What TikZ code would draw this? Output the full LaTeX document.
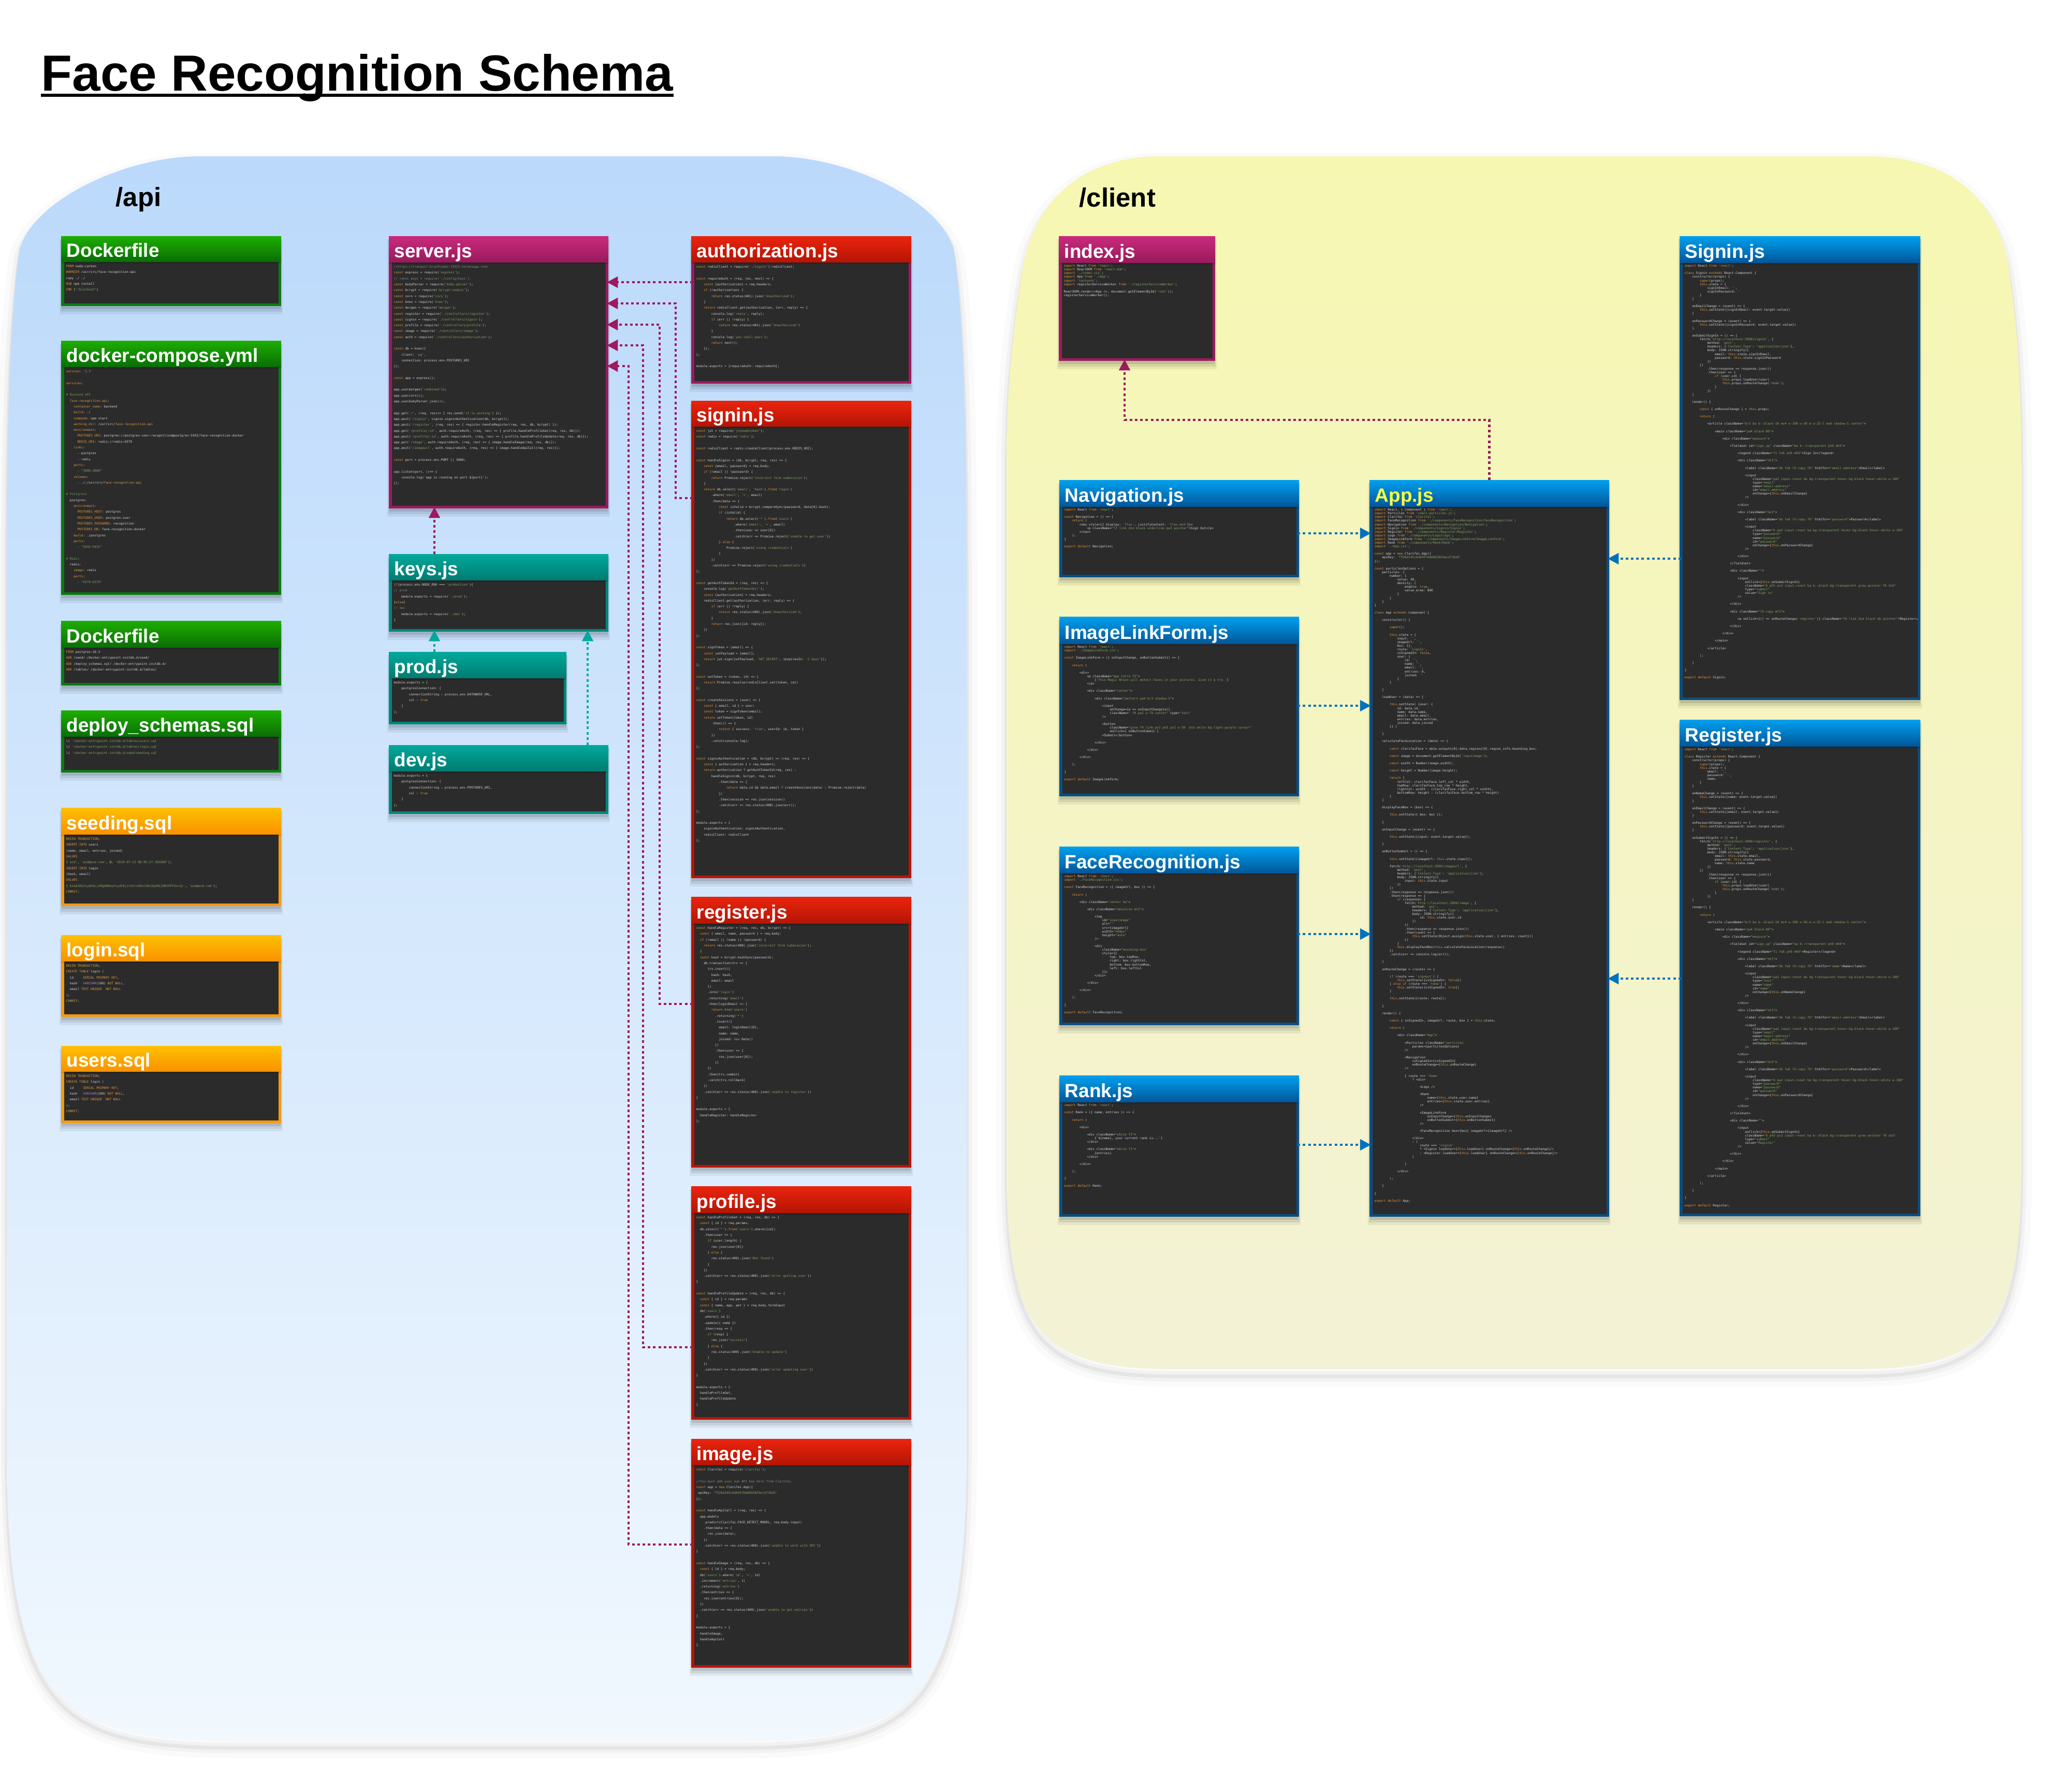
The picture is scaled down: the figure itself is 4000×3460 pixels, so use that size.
\documentclass[tikz,border=0pt]{standalone}
\usepackage{fontspec}
\setmainfont{Liberation Sans}
\setmonofont{DejaVu Sans Mono}
\usepackage{listings}
\usetikzlibrary{arrows.meta}

\begin{filecontents*}[overwrite]{api-docker.txt}
FROM node:carbon
WORKDIR /usr/src/face-recognition-api
copy ./ ./
RUN npm install
CMD ["/bin/bash"]
\end{filecontents*}

\begin{filecontents*}[overwrite]{compose.yml}
version: '3.3'

services:

# Backend API
  face-recognition-api:
    container_name: backend
    build: ./
    command: npm start
    working_dir: /usr/src/face-recognition-api
    environment:
      POSTGRES_URI: postgres://postgres-user:recognition@postgres:5432/face-recognition-docker
      REDIS_URI: redis://redis:6379
    links:
      - postgres
      - redis
    ports:
      - "3000:3000"
    volumes:
      - ./:/usr/src/face-recognition-api

# Postgress
  postgres:
    environment:
      POSTGRES_HOST: postgres
      POSTGRES_USER: postgres-user
      POSTGRES_PASSWORD: recognition
      POSTGRES_DB: face-recognition-docker
    build: ./postgres
    ports:
      - "5432:5432"

# Redis
  redis:
    image: redis
    ports:
      - "6379:6379"
\end{filecontents*}

\begin{filecontents*}[overwrite]{db-docker.txt}
FROM postgres:10.3
ADD /seed/ /docker-entrypoint-initdb.d/seed/
ADD /deploy_schemas.sql/ /docker-entrypoint-initdb.d/
ADD /tables/ /docker-entrypoint-initdb.d/tables/
\end{filecontents*}

\begin{filecontents*}[overwrite]{deploy.sql}
\i '/docker-entrypoint-initdb.d/tables/users.sql'
\i '/docker-entrypoint-initdb.d/tables/login.sql'
\i '/docker-entrypoint-initdb.d/seed/seeding.sql'
\end{filecontents*}

\begin{filecontents*}[overwrite]{seeding.sql}
BEGIN TRANSACTION;
INSERT INTO users
(name, email, entries, joined)
VALUES
('asd', 'asd@asd.com', 0, '2018-07-22 08:05:27.381000');
INSERT INTO login
(hash, email)
VALUES
('$2a$10$IsyQkSLjoMg688eqYLyd20jzYoSrsX0ot3knZpUHZjHMJhPYUxs2y', 'asd@asd.com');
COMMIT;
\end{filecontents*}

\begin{filecontents*}[overwrite]{login.sql}
BEGIN TRANSACTION;
CREATE TABLE login (
  id     SERIAL PRIMARY KEY,
  hash   VARCHAR(100) NOT NULL,
  email TEXT UNIQUE  NOT NULL
);
COMMIT;
\end{filecontents*}

\begin{filecontents*}[overwrite]{server.js}
//https://tranquil-brushlands-79323.herokuapp.com/
const express = require('express');
// const keys = require('./config/keys');
const bodyParser = require('body-parser');
const bcrypt = require('bcrypt-nodejs');
const cors = require('cors');
const knex = require('knex');
const morgan = require('morgan');
const register = require('./controllers/register');
const signin = require('./controllers/signin');
const profile = require('./controllers/profile');
const image = require('./controllers/image');
const auth = require('./controllers/authorization');

const db = knex({
    client: 'pg',
    connection: process.env.POSTGRES_URI
});

const app = express();

app.use(morgan('combined'));
app.use(cors());
app.use(bodyParser.json());

app.get('/', (req, res)=> { res.send('it is working') });
app.post('/signin', signin.signinAuthentication(db, bcrypt));
app.post('/register', (req, res) => { register.handleRegister(req, res, db, bcrypt) });
app.get('/profile/:id', auth.requireAuth, (req, res) => { profile.handleProfileGet(req, res, db)});
app.post('/profile/:id', auth.requireAuth, (req, res) => { profile.handleProfileUpdate(req, res, db)});
app.put('/image', auth.requireAuth, (req, res) => { image.handleImage(req, res, db)});
app.post('/imageurl', auth.requireAuth, (req, res) => { image.handleApiCall(req, res)});

const port = process.env.PORT || 3000;

app.listen(port, ()=> {
    console.log(`app is running on port ${port}`);
});
\end{filecontents*}

\begin{filecontents*}[overwrite]{keys.js}
if(process.env.NODE_ENV === 'production'){
// prod
    module.exports = require('./prod');
}else{
// dev
    module.exports = require('./dev');
}
\end{filecontents*}

\begin{filecontents*}[overwrite]{prod.js}
module.exports = {
    postgresConnection: {
        connectionString : process.env.DATABASE_URL,
        ssl : true
    }
};
\end{filecontents*}

\begin{filecontents*}[overwrite]{dev.js}
module.exports = {
    postgresConnection: {
        connectionString : process.env.POSTGRES_URI,
        ssl : true
    }
};
\end{filecontents*}

\begin{filecontents*}[overwrite]{authorization.js}
const redisClient = require('./signin').redisClient;

const requireAuth = (req, res, next) => {
    const {authorization} = req.headers;
    if (!authorization) {
        return res.status(401).json('Unauthorized');
    }
    return redisClient.get(authorization, (err, reply) => {
        console.log('reply', reply);
        if (err || !reply) {
            return res.status(401).json('Unauthorized')
        }
        console.log('you shall pass');
        return next();
    });
};

module.exports = {requireAuth: requireAuth};
\end{filecontents*}

\begin{filecontents*}[overwrite]{signin.js}
const jwt = require('jsonwebtoken');
const redis = require('redis');

const redisClient = redis.createClient(process.env.REDIS_URI);

const handleSignin = (db, bcrypt, req, res) => {
    const {email, password} = req.body;
    if (!email || !password) {
        return Promise.reject('incorrect form submission');
    }
    return db.select('email', 'hash').from('login')
        .where('email', '=', email)
        .then(data => {
            const isValid = bcrypt.compareSync(password, data[0].hash);
            if (isValid) {
                return db.select('*').from('users')
                    .where('email', '=', email)
                    .then(user => user[0])
                    .catch(err => Promise.reject('unable to get user'))
            } else {
                Promise.reject('wrong credentials')
            }
        })
        .catch(err => Promise.reject('wrong credentials'))
};

const getAuthTokenId = (req, res) => {
    console.log('getAuthTokenId()');
    const {authorization} = req.headers;
    redisClient.get(authorization, (err, reply) => {
        if (err || !reply) {
            return res.status(400).json('Unauthorized');
        }
        return res.json({id: reply});
    })
};

const signToken = (email) => {
    const jwtPayload = {email};
    return jwt.sign(jwtPayload, 'JWT_SECRET', {expiresIn: '2 days'});
};

const setToken = (token, id) => {
    return Promise.resolve(redisClient.set(token, id))
};

const createSessions = (user) => {
    const { email, id } = user;
    const token = signToken(email);
    return setToken(token, id)
        .then(() => {
            return { success: 'true', userId: id, token }
        })
        .catch(console.log);
};

const signinAuthentication = (db, bcrypt) => (req, res) => {
    const { authorization } = req.headers;
    return authorization ? getAuthTokenId(req, res) :
        handleSignin(db, bcrypt, req, res)
            .then(data => {
                return data.id && data.email ? createSessions(data) : Promise.reject(data)
            })
            .then(session => res.json(session))
            .catch(err => res.status(400).json(err));
};

module.exports = {
    signinAuthentication: signinAuthentication,
    redisClient: redisClient
};
\end{filecontents*}

\begin{filecontents*}[overwrite]{register.js}
const handleRegister = (req, res, db, bcrypt) => {
  const { email, name, password } = req.body;
  if (!email || !name || !password) {
    return res.status(400).json('incorrect form submission');
  }
  const hash = bcrypt.hashSync(password);
    db.transaction(trx => {
      trx.insert({
        hash: hash,
        email: email
      })
      .into('login')
      .returning('email')
      .then(loginEmail => {
        return trx('users')
          .returning('*')
          .insert({
            email: loginEmail[0],
            name: name,
            joined: new Date()
          })
          .then(user => {
            res.json(user[0]);
          })
      })
      .then(trx.commit)
      .catch(trx.rollback)
    })
    .catch(err => res.status(400).json('unable to register'))
}

module.exports = {
  handleRegister: handleRegister
};
\end{filecontents*}

\begin{filecontents*}[overwrite]{profile.js}
const handleProfileGet = (req, res, db) => {
  const { id } = req.params;
  db.select('*').from('users').where({id})
    .then(user => {
      if (user.length) {
        res.json(user[0])
      } else {
        res.status(400).json('Not found')
      }
    })
    .catch(err => res.status(400).json('error getting user'))
}

const handleProfileUpdate = (req, res, db) => {
  const { id } = req.params
  const { name, age, pet } = req.body.formInput
  db('users')
    .where({ id })
    .update({ name })
    .then(resp => {
      if (resp) {
        res.json("success")
      } else {
        res.status(400).json('Unable to update')
      }
    })
    .catch(err => res.status(400).json('error updating user'))
}

module.exports = {
  handleProfileGet,
  handleProfileUpdate
}
\end{filecontents*}

\begin{filecontents*}[overwrite]{image.js}
const Clarifai = require('clarifai');

//You must add your own API key here from Clarifai.
const app = new Clarifai.App({
 apiKey: 'f526d145cbd645fbb8663824ecd716d2'
});

const handleApiCall = (req, res) => {
  app.models
    .predict(Clarifai.FACE_DETECT_MODEL, req.body.input)
    .then(data => {
      res.json(data);
    })
    .catch(err => res.status(400).json('unable to work with API'))
}

const handleImage = (req, res, db) => {
  const { id } = req.body;
  db('users').where('id', '=', id)
  .increment('entries', 1)
  .returning('entries')
  .then(entries => {
    res.json(entries[0]);
  })
  .catch(err => res.status(400).json('unable to get entries'))
}

module.exports = {
  handleImage,
  handleApiCall
}
\end{filecontents*}

\begin{filecontents*}[overwrite]{index.js}
import React from 'react';
import ReactDOM from 'react-dom';
import './index.css';
import App from './App';
import 'tachyons';
import registerServiceWorker from './registerServiceWorker';

ReactDOM.render(<App />, document.getElementById('root'));
registerServiceWorker();
\end{filecontents*}

\begin{filecontents*}[overwrite]{Navigation.js}
import React from 'react';

const Navigation = () => {
    return (
        <nav style={{ display: 'flex', justifyContent: 'flex-end'}}>
            <p className="f3 link dim black underline pa3 pointer">Sign Out</p>
        </nav>
    );
}

export default Navigation;
\end{filecontents*}

\begin{filecontents*}[overwrite]{ImageLinkForm.js}
import React from 'react';
import './ImageLinkForm.css';

const ImageLinkForm = ({ onInputChange, onButtonSubmit}) => {

    return (

        <div>
            <p className="App-intro f3">
                {'This Magic Brain will detect faces in your pictures. Give it a try.'}
            </p>

            <div className="center">

                <div className="pattern pa4 br3 shadow-5">

                    <input
                        onChange={e => onInputChange(e)}
                        className=" f4 pa2 w-70 center" type="text"
                    />

                    <button
                        className="grow f4 link pv2 ph3 pv2 w-30  dib white bg-light-purple cursor"
                        onClick={ onButtonSubmit }
                    >Submit</button>

                </div>

            </div>

        </div>

    );

}

export default ImageLinkForm;
\end{filecontents*}

\begin{filecontents*}[overwrite]{FaceRecognition.js}
import React from 'react';
import './FaceRecognition.css';

const FaceRecognition = ({ imageUrl, box }) => {

    return (

        <div className="center ma">

            <div className="absolute mt2">

                <img
                    id="inputimage"
                    alt=""
                    src={imageUrl}
                    width="500px"
                    height="auto"
                />

                <div
                    className="bounding-box"
                    style={{
                        top: box.topRow,
                        right: box.rightCol,
                        bottom: box.bottomRow,
                        left: box.leftCol
                    }}>
                </div>

            </div>

        </div>

    );

}

export default FaceRecognition;
\end{filecontents*}

\begin{filecontents*}[overwrite]{Rank.js}
import React from 'react';

const Rank = ({ name, entries }) => {

    return (

        <div>

            <div className="white f3">
                {`${name}, your current rank is...`}
            </div>

            <div className="white f1">
                {entries}
            </div>

        </div>

    );

}

export default Rank;
\end{filecontents*}

\begin{filecontents*}[overwrite]{App.js}
import React, { Component } from 'react';
import Particles from 'react-particles-js';
import Clarifai from 'clarifai';
import FaceRecognition from './components/FaceRecognition/FaceRecognition';
import Navigation from './components/Navigation/Navigation';
import Signin from './components/Signin/Signin';
import Register from './components/Register/Register';
import Logo from './components/Logo/Logo';
import ImageLinkForm from './components/ImageLinkForm/ImageLinkForm';
import Rank from './components/Rank/Rank';
import './App.css';

const app = new Clarifai.App({
    apiKey: 'f526d145cbd645fbb8663824ecd716d2'
});

const particlesOptions = {
    particles: {
        number: {
            value: 30,
            density: {
                enable: true,
                value_area: 800
            }
        }
    }
}

class App extends Component {

    constructor() {

        super();

        this.state = {
            input: '',
            imageUrl: '',
            box: {},
            route: 'signin',
            isSignedIn: false,
            user: {
                id: '',
                name: '',
                email: '',
                entries: 0,
                joined: ''
            }
        }

    }

    loadUser = (data) => {

        this.setState( {user: {
            id: data.id,
            name: data.name,
            email: data.email,
            entries: data.entries,
            joined: data.joined
        }} )

    }

    calculateFaceLocation = (data) => {

        const clarifaiFace = data.outputs[0].data.regions[0].region_info.bounding_box;

        const image = document.getElementById('inputimage');

        const width = Number(image.width);

        const height = Number(image.height);

        return {
            leftCol: clarifaiFace.left_col * width,
            topRow: clarifaiFace.top_row * height,
            rightCol: width - (clarifaiFace.right_col * width),
            bottomRow: height - (clarifaiFace.bottom_row * height)
        }
    }

    displayFaceBox = (box) => {

        this.setState({ box: box });

    }

    onInputChange = (event) => {

        this.setState({input: event.target.value});

    }

    onButtonSubmit = () => {

        this.setState({imageUrl: this.state.input});

        fetch('http://localhost:3000/imageurl', {
            method: 'post',
            headers: {'Content-Type': 'application/json'},
            body: JSON.stringify({
                input: this.state.input
            })
        })
        .then(response => response.json())
        .then(response => {
            if (response) {
                fetch('http://localhost:3000/image', {
                    method: 'put',
                    headers: {'Content-Type': 'application/json'},
                    body: JSON.stringify({
                        id: this.state.user.id
                    })
                })
                .then(response => response.json())
                .then(count => {
                    this.setState(Object.assign(this.state.user, { entries: count}))
                })
            }
            this.displayFaceBox(this.calculateFaceLocation(response))
        })
        .catch(err => console.log(err));

    }

    onRouteChange = (route) => {

        if (route === 'signout') {
            this.setState({isSignedIn: false})
        } else if (route === 'home') {
            this.setState({isSignedIn: true})
        }

        this.setState({route: route});

    }

    render() {

        const { isSignedIn, imageUrl, route, box } = this.state;

        return (

            <div className="App">

                <Particles className='particles'
                    params={particlesOptions}
                />

                <Navigation
                    isSignedIn={isSignedIn}
                    onRouteChange={this.onRouteChange}
                />

                { route === 'home'
                    ? <div>

                        <Logo />

                        <Rank
                            name={this.state.user.name}
                            entries={this.state.user.entries}
                        />

                        <ImageLinkForm
                            onInputChange={this.onInputChange}
                            onButtonSubmit={this.onButtonSubmit}
                        />

                        <FaceRecognition box={box} imageUrl={imageUrl} />

                    </div>
                    : (
                        route === 'signin'
                        ? <Signin loadUser={this.loadUser} onRouteChange={this.onRouteChange}/>
                        : <Register loadUser={this.loadUser} onRouteChange={this.onRouteChange}/>
                    )

                }

            </div>

        );

    }

}

export default App;
\end{filecontents*}

\begin{filecontents*}[overwrite]{Signin.js}
import React from 'react';

class Signin extends React.Component {
    constructor(props) {
        super(props);
        this.state = {
            signInEmail: '',
            signInPassword: ''
        }
    }

    onEmailChange = (event) => {
        this.setState({signInEmail: event.target.value})
    }

    onPasswordChange = (event) => {
        this.setState({signInPassword: event.target.value})
    }

    onSubmitSignIn = () => {
        fetch('http://localhost:3000/signin', {
            method: 'post',
            headers: {'Content-Type': 'application/json'},
            body: JSON.stringify({
                email: this.state.signInEmail,
                password: this.state.signInPassword
            })
        })
            .then(response => response.json())
            .then(user => {
                if (user.id) {
                    this.props.loadUser(user)
                    this.props.onRouteChange('home');
                }
            })
    }

    render() {

        const { onRouteChange } = this.props;

        return (

            <article className="br3 ba b--black-10 mv4 w-100 w-50-m w-25-l mw6 shadow-5 center">

                <main className="pa4 black-80">

                    <div className="measure">

                        <fieldset id="sign_up" className="ba b--transparent ph0 mh0">

                            <legend className="f1 fw6 ph0 mh0">Sign In</legend>

                            <div className="mt3">

                                <label className="db fw6 lh-copy f6" htmlFor="email-address">Email</label>

                                <input
                                    className="pa2 input-reset ba bg-transparent hover-bg-black hover-white w-100"
                                    type="email"
                                    name="email-address"
                                    id="email-address"
                                    onChange={this.onEmailChange}
                                />

                            </div>

                            <div className="mv3">

                                <label className="db fw6 lh-copy f6" htmlFor="password">Password</label>

                                <input
                                    className="b pa2 input-reset ba bg-transparent hover-bg-black hover-white w-100"
                                    type="password"
                                    name="password"
                                    id="password"
                                    onChange={this.onPasswordChange}
                                />

                            </div>

                        </fieldset>

                        <div className="">

                            <input
                                onClick={this.onSubmitSignIn}
                                className="b ph3 pv2 input-reset ba b--black bg-transparent grow pointer f6 dib"
                                type="submit"
                                value="Sign in"
                            />

                        </div>

                        <div className="lh-copy mt3">

                            <p onClick={() => onRouteChange('register')} className="f6 link dim black db pointer">Register</p>

                        </div>

                    </div>

                </main>

            </article>

        );

    }

}

export default Signin;
\end{filecontents*}

\begin{filecontents*}[overwrite]{Register.js}
import React from 'react';

class Register extends React.Component {
    constructor(props) {
        super(props);
        this.state = {
            email: '',
            password: '',
            name: ''
        }
    }

    onNameChange = (event) => {
        this.setState({name: event.target.value})
    }

    onEmailChange = (event) => {
        this.setState({email: event.target.value})
    }

    onPasswordChange = (event) => {
        this.setState({password: event.target.value})
    }

    onSubmitSignIn = () => {
        fetch('http://localhost:3000/register', {
            method: 'post',
            headers: {'Content-Type': 'application/json'},
            body: JSON.stringify({
                email: this.state.email,
                password: this.state.password,
                name: this.state.name
            })
        })
            .then(response => response.json())
            .then(user => {
                if (user.id) {
                    this.props.loadUser(user)
                    this.props.onRouteChange('home');
                }
            })
    }

    render() {

        return (

            <article className="br3 ba b--black-10 mv4 w-100 w-50-m w-25-l mw6 shadow-5 center">

                <main className="pa4 black-80">

                    <div className="measure">

                        <fieldset id="sign_up" className="ba b--transparent ph0 mh0">

                            <legend className="f1 fw6 ph0 mh0">Register</legend>

                            <div className="mt3">

                                <label className="db fw6 lh-copy f6" htmlFor="name">Name</label>

                                <input
                                    className="pa2 input-reset ba bg-transparent hover-bg-black hover-white w-100"
                                    type="text"
                                    name="name"
                                    id="name"
                                    onChange={this.onNameChange}
                                />

                            </div>

                            <div className="mt3">

                                <label className="db fw6 lh-copy f6" htmlFor="email-address">Email</label>

                                <input
                                    className="pa2 input-reset ba bg-transparent hover-bg-black hover-white w-100"
                                    type="email"
                                    name="email-address"
                                    id="email-address"
                                    onChange={this.onEmailChange}
                                />

                            </div>

                            <div className="mv3">

                                <label className="db fw6 lh-copy f6" htmlFor="password">Password</label>

                                <input
                                    className="b pa2 input-reset ba bg-transparent hover-bg-black hover-white w-100"
                                    type="password"
                                    name="password"
                                    id="password"
                                    onChange={this.onPasswordChange}
                                />

                            </div>

                        </fieldset>

                        <div className="">

                            <input
                                onClick={this.onSubmitSignIn}
                                className="b ph3 pv2 input-reset ba b--black bg-transparent grow pointer f6 dib"
                                type="submit"
                                value="Register"
                            />

                        </div>

                    </div>

                </main>

            </article>

        );

    }

}

export default Register;
\end{filecontents*}

% ---------- colours ----------
\definecolor{codebg}{HTML}{2B2B2B}
\definecolor{codefg}{HTML}{D6D6D6}
\definecolor{kw}{HTML}{E59A3C}
\definecolor{str}{HTML}{87A862}
\definecolor{cmt}{HTML}{8A8A8A}
\definecolor{ycmt}{HTML}{6E9A4E}
\definecolor{pur}{HTML}{A882C8}
\definecolor{appY}{HTML}{FFFF3C}
\definecolor{grnT}{HTML}{1EAE00}\definecolor{grnB}{HTML}{0A6E06}\definecolor{grnL}{HTML}{0C7A10}
\definecolor{orgT}{HTML}{FDC000}\definecolor{orgB}{HTML}{F99200}\definecolor{orgL}{HTML}{F39A12}
\definecolor{mrT}{HTML}{CB2A7D}\definecolor{mrB}{HTML}{991A5C}\definecolor{mrL}{HTML}{9B1B5F}
\definecolor{redT}{HTML}{EA240E}\definecolor{redB}{HTML}{B51505}\definecolor{redL}{HTML}{B81406}
\definecolor{tlT}{HTML}{00A99B}\definecolor{tlB}{HTML}{007C72}\definecolor{tlL}{HTML}{00877C}
\definecolor{blT}{HTML}{00A0EF}\definecolor{blB}{HTML}{00579A}\definecolor{blL}{HTML}{0A4E82}
\definecolor{mrA}{HTML}{9C1A60}
\definecolor{tlA}{HTML}{00A99D}
\definecolor{blA}{HTML}{0072BC}
\definecolor{apiT}{HTML}{BBD9FB}\definecolor{apiB}{HTML}{F1F8FE}
\definecolor{cliT}{HTML}{F6F7B1}\definecolor{cliB}{HTML}{F3F2D6}

\newcommand\thGreen{\colorlet{fbT}{grnT}\colorlet{fbB}{grnB}\colorlet{fbL}{grnL}}
\newcommand\thOrange{\colorlet{fbT}{orgT}\colorlet{fbB}{orgB}\colorlet{fbL}{orgL}}
\newcommand\thMaroon{\colorlet{fbT}{mrT}\colorlet{fbB}{mrB}\colorlet{fbL}{mrL}}
\newcommand\thRed{\colorlet{fbT}{redT}\colorlet{fbB}{redB}\colorlet{fbL}{redL}}
\newcommand\thTeal{\colorlet{fbT}{tlT}\colorlet{fbB}{tlB}\colorlet{fbL}{tlL}}
\newcommand\thBlue{\colorlet{fbT}{blT}\colorlet{fbB}{blB}\colorlet{fbL}{blL}}

% ---------- listings ----------
\lstdefinelanguage{js}{
  morekeywords={const,let,var,return,if,else,import,from,export,default,class,extends,new,this,super,true,false},
  sensitive=true,
  morecomment=[l]{//},
  morecomment=[s]{/*}{*/},
  morestring=[b]',
  morestring=[b]"}
\lstdefinelanguage{yml}{
  alsoletter={_-},
  morekeywords={version,services,container_name,build,command,working_dir,environment,POSTGRES_URI,REDIS_URI,links,ports,volumes,POSTGRES_HOST,POSTGRES_USER,POSTGRES_PASSWORD,POSTGRES_DB,image,face-recognition-api},
  morecomment=[l]{\#},
  morestring=[b]',
  morestring=[b]"}
\lstdefinelanguage{dock}{
  morekeywords={FROM,WORKDIR,RUN,CMD,ADD},
  morestring=[b]"}
\lstdefinelanguage{psql}{
  morekeywords={BEGIN,TRANSACTION,INSERT,INTO,VALUES,COMMIT,CREATE,TABLE,SERIAL,PRIMARY,KEY,NOT,NULL,UNIQUE,TEXT},
  morestring=[b]'}
\lstdefinestyle{api}{
  basicstyle=\color{codefg}\ttfamily\fontsize{1.724pt}{3.215pt}\selectfont,
  columns=fullflexible, keepspaces=true, showstringspaces=false,
  aboveskip=0pt, belowskip=0pt, frame=none, breaklines=false,
  keywordstyle=\color{kw}, stringstyle=\color{str}, commentstyle=\color{cmt},
  emph={VARCHAR}, emphstyle=\color{pur}}
\lstdefinestyle{cli}{style=api,
  basicstyle=\color{codefg}\ttfamily\fontsize{1.724pt}{2.02pt}\selectfont}

\tikzset{
  fbbody/.style={draw=fbL, fill=codebg, line width=0.55mm, inner sep=0pt, outer sep=0pt},
  fbhead/.style={top color=fbT, bottom color=fbB, inner sep=0pt, outer sep=0pt},
  fbtitle/.style={text=white, font=\bfseries\fontsize{10.53pt}{12pt}\selectfont, inner sep=0pt},
  softshade/.style={fill=black, fill opacity=#1, draw=none},
  conn/.style={line width=0.48mm, dash pattern=on 0.5mm off 0.52mm,
    -{Triangle[length=2.1mm,width=2.1mm]}},
  mline/.style={conn, draw=mrA},
  tline/.style={conn, draw=tlA},
  bline/.style={conn, draw=blA},
  folder/.style={font=\bfseries\fontsize{14.5pt}{16pt}\selectfont, inner sep=0pt, anchor=base west}
}

% name, left, top, right, header bottom, bottom, theme, title, code
\newcommand\filebox[9]{%
  #7%
  \fill[softshade=0.06] (#2-3,#3+6) rectangle (#4+3,#6+16);
  \fill[softshade=0.08] (#2-1,#3+6) rectangle (#4+1,#6+11);
  \fill[softshade=0.10] (#2+1,#3+6) rectangle (#4-1,#6+6);
  \node[fbbody, anchor=north west, minimum width={(#4-#2-5.5)*0.1mm},
        minimum height={(#6-#3-5.5)*0.1mm}] (#1) at (#2+2.75,#3+2.75) {};
  \begin{scope}
    \clip (#2+5.5,#5) rectangle (#4-5.5,#6-5.5);
    \node[anchor=north west, inner sep=0pt] (#1-code) at (#2+9,#5+3) {\parbox[t]{150mm}{#9}};
  \end{scope}
  \fill[softshade=0.12] (#2,#5) rectangle (#4,#5+4);
  \node[fbhead, anchor=north west, minimum width={(#4-#2)*0.1mm},
        minimum height={(#5-#3)*0.1mm}] (#1-head) at (#2,#3) {};
  \node[fbtitle, anchor=base west] (#1-title) at (#2+10,#5-9) {#8};
}

\newcommand\apipath{(384,302) .. controls (250,302) and (70,380) .. (38,480)
  .. controls (20,600) and (13,800) .. (13,1100)
  -- (13,2800) .. controls (13,3300) and (120,3362) .. (460,3362)
  -- (1420,3362) .. controls (1760,3362) and (1867,3300) .. (1867,2800)
  -- (1867,1100) .. controls (1867,800) and (1860,600) .. (1842,480)
  .. controls (1810,380) and (1630,302) .. (1496,302) -- cycle}
\newcommand\clientpath{(2237,302) .. controls (2110,302) and (2000,370) .. (1975,520)
  .. controls (1955,640) and (1944,760) .. (1944,900)
  -- (1944,2250) .. controls (1944,2560) and (2000,2644) .. (2260,2644)
  -- (3588,2644) .. controls (3848,2644) and (3904,2560) .. (3904,2250)
  -- (3904,900) .. controls (3904,760) and (3898,640) .. (3880,520)
  .. controls (3860,380) and (3760,302) .. (3608,302) -- cycle}

\begin{document}
\begin{tikzpicture}[x=0.1mm, y=-0.1mm]
\useasboundingbox (0,0) rectangle (4000,3460);
\fill[white] (0,0) rectangle (4000,3460);

% title
\node[inner sep=0pt, anchor=base west, font=\bfseries\fontsize{27.9pt}{30pt}\selectfont] (title) at (79,175) {Face Recognition Schema};
\draw[line width=0.6mm] ([yshift=-0.9mm]title.base west) -- ([yshift=-0.9mm]title.base east);

% soft shadows under the two folder panels
\begin{scope}[yshift=-1.4mm]
  \draw[black, draw opacity=0.018, line width=4mm] \apipath;
  \draw[black, draw opacity=0.03, line width=2mm] \apipath;
  \draw[black, draw opacity=0.05, line width=0.7mm] \apipath;
  \draw[black, draw opacity=0.018, line width=4mm] \clientpath;
  \draw[black, draw opacity=0.03, line width=2mm] \clientpath;
  \draw[black, draw opacity=0.05, line width=0.7mm] \clientpath;
\end{scope}
% panels
\path[top color=apiT, bottom color=apiB] \apipath;
\path[top color=cliT, bottom color=cliB] \clientpath;

\node[folder] (apilabel) at (223,398) {/api};
\node[folder] (clientlabel) at (2084,399) {/client};

% ----- /api files -----
\filebox{dockerA}{118}{456}{543}{505}{591}{\thGreen}{Dockerfile}{\lstinputlisting[style=api,language=dock]{api-docker.txt}}
\filebox{compose}{118}{658}{543}{708}{1149}{\thGreen}{docker-compose.yml}{\lstinputlisting[style=api,language=yml,commentstyle=\color{ycmt}]{compose.yml}}
\filebox{dockerB}{118}{1199}{543}{1250}{1324}{\thGreen}{Dockerfile}{\lstinputlisting[style=api,language=dock]{db-docker.txt}}
\filebox{deploy}{118}{1372}{543}{1422}{1492}{\thGreen}{deploy\_schemas.sql}{\lstinputlisting[style=api,language=psql]{deploy.sql}}
\filebox{seeding}{118}{1560}{543}{1611}{1750}{\thOrange}{seeding.sql}{\lstinputlisting[style=api,language=psql]{seeding.sql}}
\filebox{loginsql}{118}{1806}{543}{1856}{1964}{\thOrange}{login.sql}{\lstinputlisting[style=api,language=psql]{login.sql}}
\filebox{userssql}{118}{2020}{543}{2069}{2169}{\thOrange}{users.sql}{\lstinputlisting[style=api,language=psql]{login.sql}}

\filebox{serverjs}{751}{456}{1175}{506}{982}{\thMaroon}{server.js}{\lstinputlisting[style=api,language=js]{server.js}}
\filebox{keysjs}{751}{1070}{1175}{1120}{1220}{\thTeal}{keys.js}{\lstinputlisting[style=api,language=js]{keys.js}}
\filebox{prodjs}{751}{1259}{1094}{1309}{1399}{\thTeal}{prod.js}{\lstinputlisting[style=api,language=js]{prod.js}}
\filebox{devjs}{751}{1439}{1175}{1489}{1572}{\thTeal}{dev.js}{\lstinputlisting[style=api,language=js]{dev.js}}

\filebox{authjs}{1335}{456}{1760}{506}{741}{\thRed\colorlet{fbL}{mrL}}{authorization.js}{\lstinputlisting[style=api,language=js]{authorization.js}}
\filebox{signinjs}{1335}{774}{1760}{823}{1696}{\thRed}{signin.js}{\lstinputlisting[style=api,language=js]{signin.js}}
\filebox{registerjs}{1335}{1732}{1760}{1783}{2255}{\thRed}{register.js}{\lstinputlisting[style=api,language=js]{register.js}}
\filebox{profilejs}{1335}{2291}{1760}{2342}{2742}{\thRed}{profile.js}{\lstinputlisting[style=api,language=js]{profile.js}}
\filebox{imagejs}{1335}{2779}{1760}{2829}{3221}{\thRed}{image.js}{\lstinputlisting[style=api,language=js]{image.js}}

% ----- /client files -----
\filebox{indexjs}{2045}{456}{2347}{507}{697}{\thMaroon}{index.js}{\lstinputlisting[style=cli,language=js]{index.js}}
\filebox{navjs}{2046}{927}{2509}{978}{1115}{\thBlue}{Navigation.js}{\lstinputlisting[style=cli,language=js]{Navigation.js}}
\filebox{ilfjs}{2046}{1191}{2509}{1243}{1538}{\thBlue}{ImageLinkForm.js}{\lstinputlisting[style=cli,language=js]{ImageLinkForm.js}}
\filebox{frjs}{2046}{1635}{2509}{1686}{1980}{\thBlue}{FaceRecognition.js}{\lstinputlisting[style=cli,language=js]{FaceRecognition.js}}
\filebox{rankjs}{2046}{2077}{2509}{2128}{2350}{\thBlue}{Rank.js}{\lstinputlisting[style=cli,language=js]{Rank.js}}
\filebox{appjs}{2645}{927}{3108}{978}{2350}{\thBlue}{\textcolor{appY}{App.js}}{\lstinputlisting[style=cli,language=js]{App.js}}
\filebox{signinc}{3244}{456}{3709}{507}{1352}{\thBlue}{Signin.js}{\lstinputlisting[style=cli,language=js]{Signin.js}}
\filebox{registerc}{3244}{1390}{3709}{1441}{2349}{\thBlue}{Register.js}{\lstinputlisting[style=cli,language=js]{Register.js}}

% ----- connectors: /api -----
\draw[mline] (authjs.west |- 0,545) -- (serverjs.east |- 0,545);
\draw[mline] (signinjs.west |- 0,962) -| (1305,586) -- (serverjs.east |- 0,586);
\draw[mline] (registerjs.west |- 0,1939) -| (1274,627) -- (serverjs.east |- 0,627);
\draw[mline] (profilejs.west |- 0,2602) -| (1242,667) -- (serverjs.east |- 0,667);
\draw[mline] (imagejs.west |- 0,2983) -| (1214,707) -- (serverjs.east |- 0,707);
\draw[mline] (keysjs-head.north -| 839,0) -- (serverjs.south -| 839,0);
\draw[tline] (prodjs-head.north -| 839,0) -- (keysjs.south -| 839,0);
\draw[tline] (devjs-head.north -| 1135,0) -- (keysjs.south -| 1135,0);

% ----- connectors: /client -----
\draw[bline] (navjs.east |- 0,1030) -- (appjs.west |- 0,1030);
\draw[bline] (ilfjs.east |- 0,1363) -- (appjs.west |- 0,1363);
\draw[bline] (frjs.east |- 0,1804) -- (appjs.west |- 0,1804);
\draw[bline] (rankjs.east |- 0,2211) -- (appjs.west |- 0,2211);
\draw[bline] (signinc.west |- 0,1079) -- (appjs.east |- 0,1079);
\draw[bline] (registerc.west |- 0,1890) -- (appjs.east |- 0,1890);
\draw[mline] (appjs-head.north) |- (2172,811) -- (2172,811 |- indexjs.south);

\end{tikzpicture}
\end{document}
